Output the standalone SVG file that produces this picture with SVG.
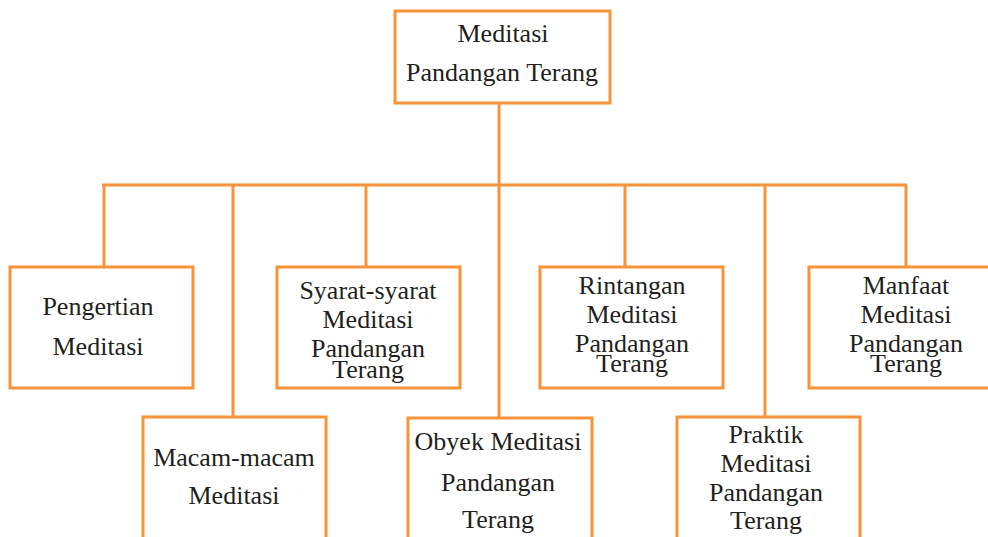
<svg xmlns="http://www.w3.org/2000/svg" width="988" height="537" viewBox="0 0 988 537">
<style>
.box{fill:#fff;stroke:#F7943A;stroke-width:3}
.ln{stroke:#F7943A;stroke-width:3;fill:none}
text{font-family:"Liberation Serif","Times New Roman",serif;font-size:26px;fill:#231F20;text-anchor:middle}
</style>
<rect width="988" height="537" fill="#fff"/>
<g id="connectors">
<path class="ln" d="M499,103V185M102,185H907M104,185V267M233,185V417M366,185V267M499,185V417M625,185V267M765,185V417M906,185V267"/>
</g>
<g id="root">
<rect class="box" x="395" y="11" width="215" height="92"/>
<text x="503" y="42">Meditasi</text>
<text x="502" y="81">Pandangan Terang</text>
</g>
<g id="pengertian">
<rect class="box" x="10" y="267" width="183" height="121"/>
<text x="98" y="315">Pengertian</text>
<text x="98" y="355">Meditasi</text>
</g>
<g id="macam">
<rect class="box" x="143" y="417" width="183" height="130"/>
<text x="234" y="466">Macam-macam</text>
<text x="234" y="504">Meditasi</text>
</g>
<g id="syarat">
<rect class="box" x="277" y="267" width="183" height="121"/>
<text x="368" y="299">Syarat-syarat</text>
<text x="368" y="328">Meditasi</text>
<text x="368" y="357">Pandangan</text>
<text x="368" y="378">Terang</text>
</g>
<g id="obyek">
<rect class="box" x="408" y="418" width="184" height="130"/>
<text x="498" y="450">Obyek Meditasi</text>
<text x="498" y="491">Pandangan</text>
<text x="498" y="528">Terang</text>
</g>
<g id="rintangan">
<rect class="box" x="540" y="267" width="183" height="121"/>
<text x="632" y="294">Rintangan</text>
<text x="632" y="323">Meditasi</text>
<text x="632" y="352">Pandangan</text>
<text x="632" y="372">Terang</text>
</g>
<g id="praktik">
<rect class="box" x="677" y="417" width="183" height="130"/>
<text x="766" y="443">Praktik</text>
<text x="766" y="472">Meditasi</text>
<text x="766" y="501">Pandangan</text>
<text x="766" y="529">Terang</text>
</g>
<g id="manfaat">
<rect class="box" x="809" y="267" width="183" height="121"/>
<text x="906" y="294">Manfaat</text>
<text x="906" y="323">Meditasi</text>
<text x="906" y="352">Pandangan</text>
<text x="906" y="372">Terang</text>
</g>
</svg>
